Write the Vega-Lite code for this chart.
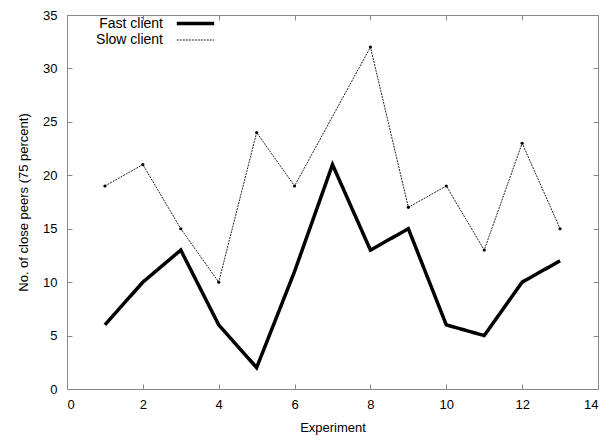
{
  "$schema": "https://vega.github.io/schema/vega-lite/v6.json",
  "width": 531,
  "height": 374,
  "autosize": {"type": "none"},
  "padding": {"left": 67, "top": 15, "right": 15, "bottom": 51},
  "background": "white",
  "config": {
    "view": {"stroke": "#888888", "strokeWidth": 1},
    "font": "Liberation Sans",
    "axis": {
      "grid": false,
      "domain": false,
      "labelFont": "Liberation Sans",
      "labelFontSize": 13,
      "labelColor": "#000000",
      "titleFont": "Liberation Sans",
      "titleFontSize": 13,
      "titleFontWeight": "normal",
      "titleColor": "#000000"
    }
  },
  "resolve": {"axis": {"x": "independent", "y": "independent"}},
  "data": {
    "values": [
      {"exp": 1, "peers": 6, "series": "Fast client"},
      {"exp": 2, "peers": 10, "series": "Fast client"},
      {"exp": 3, "peers": 13, "series": "Fast client"},
      {"exp": 4, "peers": 6, "series": "Fast client"},
      {"exp": 5, "peers": 2, "series": "Fast client"},
      {"exp": 6, "peers": 11, "series": "Fast client"},
      {"exp": 7, "peers": 21, "series": "Fast client"},
      {"exp": 8, "peers": 13, "series": "Fast client"},
      {"exp": 9, "peers": 15, "series": "Fast client"},
      {"exp": 10, "peers": 6, "series": "Fast client"},
      {"exp": 11, "peers": 5, "series": "Fast client"},
      {"exp": 12, "peers": 10, "series": "Fast client"},
      {"exp": 13, "peers": 12, "series": "Fast client"},
      {"exp": 1, "peers": 19, "series": "Slow client"},
      {"exp": 2, "peers": 21, "series": "Slow client"},
      {"exp": 3, "peers": 15, "series": "Slow client"},
      {"exp": 4, "peers": 10, "series": "Slow client"},
      {"exp": 5, "peers": 24, "series": "Slow client"},
      {"exp": 6, "peers": 19, "series": "Slow client"},
      {"exp": 8, "peers": 32, "series": "Slow client"},
      {"exp": 9, "peers": 17, "series": "Slow client"},
      {"exp": 10, "peers": 19, "series": "Slow client"},
      {"exp": 11, "peers": 13, "series": "Slow client"},
      {"exp": 12, "peers": 23, "series": "Slow client"},
      {"exp": 13, "peers": 15, "series": "Slow client"}
    ]
  },
  "layer": [
    {
      "mark": {"type": "line", "strokeCap": "butt", "strokeJoin": "miter"},
      "encoding": {
        "x": {
          "field": "exp", "type": "quantitative",
          "scale": {"domain": [0, 14], "nice": false, "zero": false},
          "axis": {"title": "Experiment", "values": [0, 2, 4, 6, 8, 10, 12, 14], "ticks": true, "tickColor": "#888888", "tickWidth": 1, "tickSize": 5, "offset": -5, "labelPadding": 9, "titlePadding": 10}
        },
        "y": {
          "field": "peers", "type": "quantitative",
          "scale": {"domain": [0, 35], "nice": false},
          "axis": {"title": "No. of close peers (75 percent)", "values": [0, 5, 10, 15, 20, 25, 30, 35], "ticks": true, "tickColor": "#888888", "tickWidth": 1, "tickSize": 5, "offset": -5, "labelPadding": 10, "titleX": -42, "titleY": 187}
        },
        "color": {
          "field": "series", "type": "nominal",
          "scale": {"domain": ["Fast client", "Slow client"], "range": ["#000000", "#222222"]},
          "legend": {
            "title": null,
            "orient": "none",
            "legendX": 118,
            "legendY": -2,
            "symbolType": "M-2.2,0H2.2",
            "symbolSize": 289,
            "labelAlign": "right",
            "labelOffset": -43,
            "labelFontSize": 14,
            "labelFont": "Liberation Sans",
            "labelColor": "#000000",
            "rowPadding": 0,
            "direction": "vertical"
          }
        },
        "strokeWidth": {
          "field": "series", "type": "nominal",
          "scale": {"domain": ["Fast client", "Slow client"], "range": [3.5, 1]},
          "legend": null
        },
        "strokeDash": {
          "field": "series", "type": "nominal",
          "scale": {"domain": ["Fast client", "Slow client"], "range": [[1, 0], [2, 1]]},
          "legend": null
        }
      }
    },
    {
      "transform": [{"filter": "datum.series === 'Slow client'"}],
      "mark": {"type": "point", "filled": true, "size": 10, "color": "#000000", "opacity": 1},
      "encoding": {
        "x": {"field": "exp", "type": "quantitative", "axis": {"orient": "top", "labels": false, "title": null, "values": [0, 2, 4, 6, 8, 10, 12, 14], "ticks": true, "tickColor": "#888888", "tickWidth": 1, "tickSize": 5, "offset": -5}},
        "y": {"field": "peers", "type": "quantitative", "axis": {"orient": "right", "labels": false, "title": null, "values": [0, 5, 10, 15, 20, 25, 30, 35], "ticks": true, "tickColor": "#888888", "tickWidth": 1, "tickSize": 5, "offset": -5}}
      }
    }
  ]
}
